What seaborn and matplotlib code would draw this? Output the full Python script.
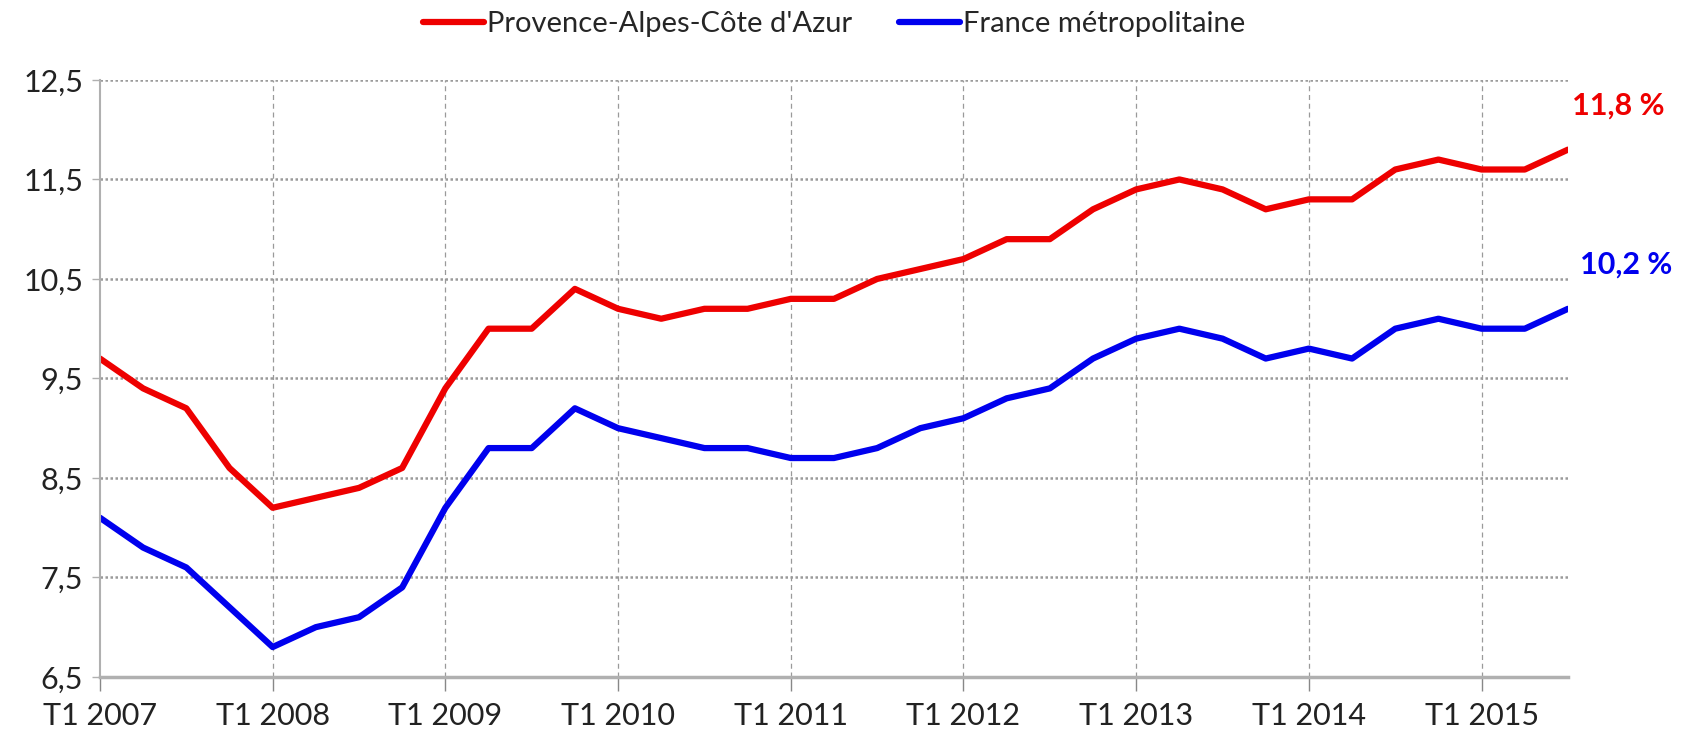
import numpy as np
import pandas as pd
import matplotlib
matplotlib.use("Agg")
import matplotlib.pyplot as plt
import seaborn as sns

years = list(range(2007, 2016))
quarters = [f"T{q} {y}" for y in years for q in range(1, 5)][:35]

paca = [9.7, 9.4, 9.2, 8.6,
        8.2, 8.3, 8.4, 8.6,
        9.4, 10.0, 10.0, 10.4,
        10.2, 10.1, 10.2, 10.2,
        10.3, 10.3, 10.5, 10.6,
        10.7, 10.9, 10.9, 11.2,
        11.4, 11.5, 11.4, 11.2,
        11.3, 11.3, 11.6, 11.7,
        11.6, 11.6, 11.8]
france = [8.1, 7.8, 7.6, 7.2,
          6.8, 7.0, 7.1, 7.4,
          8.2, 8.8, 8.8, 9.2,
          9.0, 8.9, 8.8, 8.8,
          8.7, 8.7, 8.8, 9.0,
          9.1, 9.3, 9.4, 9.7,
          9.9, 10.0, 9.9, 9.7,
          9.8, 9.7, 10.0, 10.1,
          10.0, 10.0, 10.2]
series_names = ["Provence-Alpes-Côte d'Azur", "France métropolitaine"]
series_colors = ["#ee0000", "#0000ee"]
end_labels = ["11,8 %", "10,2 %"]
y_ticks = [6.5, 7.5, 8.5, 9.5, 10.5, 11.5, 12.5]
y_tick_labels = ["6,5", "7,5", "8,5", "9,5", "10,5", "11,5", "12,5"]
x_tick_labels = [f"T1 {y}" for y in years]

sns.set_theme(style="white")
plt.rcParams['font.family'] = ['Lato', 'DejaVu Sans']

df = pd.DataFrame({
    "idx": list(range(len(quarters))) * 2,
    "quarter": quarters * 2,
    "value": paca + france,
    "series": [series_names[0]] * len(paca) + [series_names[1]] * len(france),
})

fig = plt.figure(figsize=(16.94, 7.31), dpi=100)
ax = fig.add_axes([0.059, 0.074, 0.8666, 0.8166])

sns.lineplot(data=df, x="idx", y="value", hue="series", palette=series_colors,
             hue_order=series_names, linewidth=4.5, ax=ax, legend=True)

ax.set_xlim(0, len(quarters) - 1)
ax.set_ylim(6.5, 12.5)
ax.set_yticks(y_ticks)
ax.set_yticklabels(y_tick_labels, fontsize=22, color="#222222")
xt = [i for i, q in enumerate(quarters) if q.startswith("T1")]
ax.set_xticks(xt)
ax.set_xticklabels(x_tick_labels, fontsize=22, color="#222222")
ax.set_xlabel("")
ax.set_ylabel("")

ax.grid(False)
for y in y_ticks[1:]:
    ax.axhline(y, color="#9a9a9a", linestyle=(0, (1, 1)), linewidth=1.8, zorder=0)
for x in xt[1:]:
    ax.axvline(x, color="#9a9a9a", linestyle=(0, (4, 3)), linewidth=0.9, zorder=0)

for s in ["top", "right"]:
    ax.spines[s].set_visible(False)
ax.spines["left"].set_color("#b0b0b0")
ax.spines["left"].set_linewidth(1.5)
ax.spines["bottom"].set_color("#b0b0b0")
ax.spines["bottom"].set_linewidth(2.5)
ax.tick_params(axis="x", which="both", bottom=True, length=10, width=1, color="#888888",
               pad=8, direction="out")
ax.tick_params(axis="y", left=True, length=6, width=1, color="#b0b0b0", pad=6)

# end-value labels
ax.annotate(end_labels[0], xy=(len(paca) - 1, paca[-1]), xytext=(3, 32),
            textcoords="offset points", color=series_colors[0], fontsize=22,
            fontweight="bold", ha="left", va="center", annotation_clip=False)
ax.annotate(end_labels[1], xy=(len(france) - 1, france[-1]), xytext=(9, 32),
            textcoords="offset points", color=series_colors[1], fontsize=22,
            fontweight="bold", ha="left", va="center", annotation_clip=False)

leg = ax.legend(loc="center", bbox_to_anchor=(0.5, 1.094), ncol=2, frameon=False,
                fontsize=21, handlelength=2.1, handletextpad=0.1, columnspacing=1.6)
for h in leg.get_lines():
    h.set_linewidth(4.5)

fig.savefig("out.png", dpi=100)
